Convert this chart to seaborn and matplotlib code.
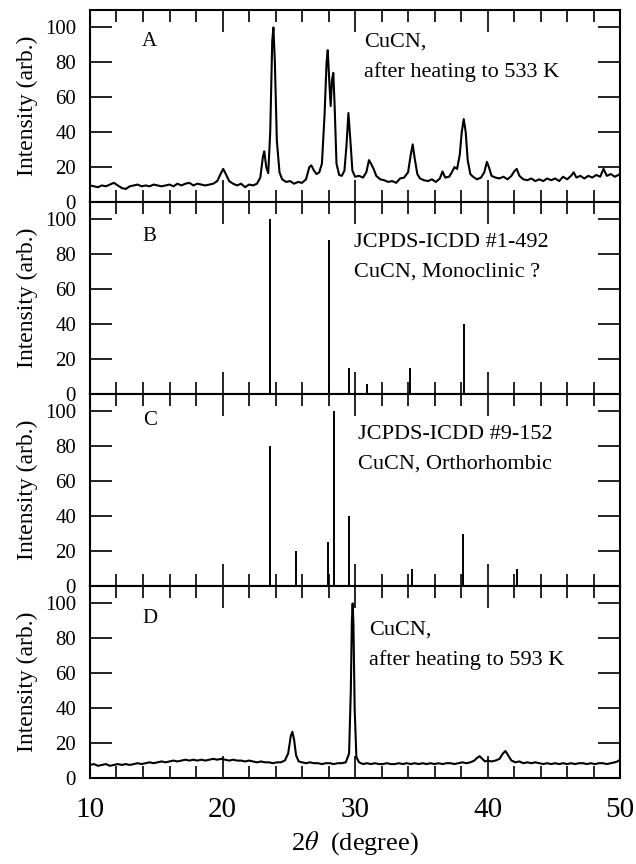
import numpy as np
import matplotlib
matplotlib.use("Agg")
import matplotlib.pyplot as plt
import seaborn as sns
import pandas as pd
from matplotlib.ticker import MultipleLocator

# panel A: CuCN after heating to 533 K
a_theta = [10.0, 10.3, 10.6, 10.9, 11.2, 11.5, 11.8, 12.1, 12.4, 12.7, 13.0, 13.3, 13.6, 13.9,
           14.2, 14.5, 14.8, 15.1, 15.4, 15.7, 16.0, 16.3, 16.6, 16.9, 17.2, 17.5, 17.8, 18.1,
           18.4, 18.7, 19.0, 19.3, 19.6, 19.85, 20.05, 20.25, 20.5, 20.8, 21.1, 21.4, 21.7,
           22.0, 22.3, 22.6, 22.85, 23.05, 23.15, 23.3, 23.45, 23.6, 23.75, 23.84, 23.95,
           24.1, 24.3, 24.5, 24.8, 25.1, 25.4, 25.7, 26.0, 26.3, 26.55, 26.7, 26.9, 27.1,
           27.3, 27.5, 27.7, 27.85, 27.94, 28.05, 28.16, 28.26, 28.36, 28.46, 28.6, 28.8,
           29.0, 29.2, 29.35, 29.5, 29.65, 29.8, 30.0, 30.3, 30.6, 30.85, 31.05, 31.2, 31.4,
           31.6, 31.9, 32.2, 32.5, 32.8, 33.1, 33.4, 33.7, 34.0, 34.2, 34.35, 34.5, 34.7,
           34.9, 35.2, 35.5, 35.8, 36.1, 36.4, 36.6, 36.8, 37.1, 37.3, 37.5, 37.7, 37.9,
           38.05, 38.2, 38.35, 38.5, 38.7, 38.9, 39.2, 39.5, 39.75, 39.95, 40.1, 40.3, 40.6,
           40.9, 41.2, 41.5, 41.8, 42.0, 42.2, 42.4, 42.7, 43.0, 43.3, 43.6, 43.9, 44.2,
           44.5, 44.8, 45.1, 45.4, 45.7, 46.0, 46.3, 46.5, 46.7, 47.0, 47.3, 47.6, 47.9,
           48.2, 48.5, 48.75, 49.0, 49.3, 49.6, 50.0]
a_int = [9.5, 9.0, 8.5, 9.5, 9.0, 10.0, 11.0, 9.5, 8.0, 7.5, 9.0, 9.5, 10.0, 9.0,
         9.5, 9.0, 10.0, 9.5, 9.0, 9.5, 10.0, 9.0, 10.5, 9.5, 10.5, 11.0, 9.5, 10.5,
         10.0, 9.5, 10.0, 10.5, 12.0, 16.0, 19.0, 16.0, 12.0, 10.5, 9.5, 10.5, 8.5,
         10.0, 9.5, 10.5, 14.0, 26.0, 29.0, 20.0, 16.5, 40.0, 92.0, 100.0, 80.0,
         35.0, 17.0, 13.0, 11.5, 12.0, 10.5, 11.5, 11.0, 13.0, 20.0, 21.0, 18.0, 16.0,
         17.0, 22.0, 50.0, 80.0, 87.0, 70.0, 55.0, 70.0, 74.0, 55.0, 22.0, 15.5,
         15.0, 18.0, 32.0, 51.0, 35.0, 18.0, 14.5, 15.0, 14.0, 17.0, 24.0, 22.0, 19.0,
         15.0, 13.0, 12.5, 11.5, 12.0, 11.0, 13.5, 14.0, 17.0, 27.0, 33.0, 25.0, 16.0,
         13.5, 12.5, 12.0, 13.0, 11.5, 13.5, 17.5, 14.0, 14.5, 17.0, 20.0, 19.0, 27.0,
         40.0, 47.5, 40.0, 24.0, 16.0, 14.5, 13.0, 14.0, 17.0, 23.0, 20.0, 15.0, 14.0,
         13.5, 14.5, 13.0, 15.0, 17.5, 19.0, 15.0, 13.0, 12.5, 13.5, 12.0, 13.0, 12.0,
         13.5, 12.5, 13.5, 12.0, 14.5, 13.0, 15.0, 17.0, 14.0, 15.0, 13.5, 15.0, 14.0,
         15.5, 14.5, 19.0, 15.0, 16.0, 14.5, 16.0]

# panel B: JCPDS-ICDD #1-492
b_pos = [23.55, 28.05, 29.57, 30.93, 34.17, 38.25]
b_int = [100, 88, 15, 5.5, 15, 40]

# panel C: JCPDS-ICDD #9-152
c_pos = [23.56, 25.52, 27.93, 28.44, 29.57, 34.33, 38.12, 42.2]
c_int = [80, 20, 25, 100, 40, 10, 30, 10]

# panel D: CuCN after heating to 593 K
d_theta = [10.0, 10.3, 10.6, 10.9, 11.2, 11.5, 11.8, 12.1, 12.4, 12.7, 13.0, 13.3, 13.6, 13.9,
           14.2, 14.5, 14.8, 15.1, 15.4, 15.7, 16.0, 16.3, 16.6, 16.9, 17.2, 17.5, 17.8, 18.1,
           18.4, 18.7, 19.0, 19.3, 19.6, 19.9, 20.2, 20.5, 20.8, 21.1, 21.4, 21.7, 22.0,
           22.3, 22.6, 22.9, 23.2, 23.5, 23.8, 24.1, 24.4, 24.7, 24.95, 25.15, 25.27, 25.4,
           25.55, 25.75, 26.0, 26.3, 26.6, 26.9, 27.2, 27.5, 27.8, 28.1, 28.4, 28.7, 29.0,
           29.3, 29.55, 29.68, 29.76, 29.82, 29.88, 29.97, 30.1, 30.3, 30.6, 30.9, 31.2, 31.5,
           31.8, 32.1, 32.4, 32.7, 33.0, 33.3, 33.6, 33.9, 34.2, 34.5, 34.8, 35.1, 35.4,
           35.7, 36.0, 36.3, 36.6, 36.9, 37.2, 37.5, 37.8, 38.1, 38.4, 38.7, 39.0, 39.2,
           39.4, 39.6, 39.8, 40.0, 40.3, 40.6, 40.9, 41.15, 41.35, 41.55, 41.8, 42.1, 42.4,
           42.7, 43.0, 43.3, 43.6, 43.9, 44.2, 44.5, 44.8, 45.1, 45.4, 45.7, 46.0, 46.3,
           46.6, 46.9, 47.2, 47.5, 47.8, 48.1, 48.4, 48.7, 49.0, 49.3, 49.6, 49.8, 50.0]
d_int = [7.5, 8.0, 7.0, 7.5, 8.0, 7.0, 7.5, 8.0, 7.5, 8.0, 7.5, 8.0, 8.5, 8.0,
         8.5, 9.0, 8.5, 9.0, 9.5, 9.0, 9.5, 10.0, 9.5, 10.0, 10.5, 10.0, 10.5, 10.0,
         10.5, 10.0, 10.5, 11.0, 10.5, 11.0, 10.5, 10.0, 10.5, 10.0, 10.0, 9.5, 10.0,
         9.5, 9.0, 9.5, 9.0, 9.0, 8.5, 9.0, 9.0, 10.0, 14.0, 24.0, 26.5, 22.0,
         13.0, 9.5, 9.0, 8.5, 9.0, 8.5, 8.5, 8.0, 8.5, 8.5, 8.0, 8.5, 8.5,
         9.0, 14.0, 50.0, 90.0, 100.0, 88.0, 40.0, 12.0, 9.0, 8.0, 8.5, 8.0, 8.5,
         8.0, 8.0, 8.5, 8.0, 8.0, 8.5, 8.0, 8.5, 8.0, 8.5, 8.0, 8.5, 8.0,
         8.5, 8.0, 8.5, 8.0, 8.5, 8.5, 8.0, 8.5, 9.0, 8.5, 9.0, 10.0, 11.5,
         12.5, 11.0, 9.5, 10.0, 9.5, 10.0, 11.0, 14.0, 15.5, 13.0, 10.0, 9.0, 9.5,
         8.5, 9.0, 8.5, 9.0, 8.5, 8.0, 8.5, 8.0, 8.5, 8.0, 8.5, 8.0, 8.5,
         8.0, 8.5, 8.5, 8.0, 8.5, 8.0, 8.5, 8.5, 8.0, 8.5, 9.0, 9.5, 10.5]

panel_tags = ["A", "B", "C", "D"]
panel_notes = [["CuCN,", "after heating to 533 K"],
               ["JCPDS-ICDD #1-492", "CuCN, Monoclinic ?"],
               ["JCPDS-ICDD #9-152", "CuCN, Orthorhombic"],
               ["CuCN,", "after heating to 593 K"]]
note_x = [30.7, 29.9, 30.25, 31.05]
note_y = [[91.5, 74.5], [87, 70], [86.7, 70], [84.7, 67.6]]
tag_y = [92, 90, 95, 91.4]

sns.set_style("ticks")
plt.rcParams["font.family"] = ["Liberation Serif", "DejaVu Serif"]
plt.rcParams["mathtext.fontset"] = "stix"
for key in ["text.color", "axes.labelcolor", "xtick.color", "ytick.color", "axes.edgecolor"]:
    plt.rcParams[key] = "black"

fig, axes = plt.subplots(4, 1, figsize=(6.36, 8.64), dpi=100, sharex=True)
fig.subplots_adjust(left=0.1415, right=0.975, top=0.9884, bottom=0.0995, hspace=0)

df_a = pd.DataFrame({"theta": a_theta, "I": a_int})
df_d = pd.DataFrame({"theta": d_theta, "I": d_int})
sns.lineplot(data=df_a, x="theta", y="I", ax=axes[0], color="black", lw=1.5, estimator=None)
axes[1].vlines(b_pos, 0, b_int, color="black", lw=1.4)
axes[2].vlines(c_pos, 0, c_int, color="black", lw=1.4)
sns.lineplot(data=df_d, x="theta", y="I", ax=axes[3], color="black", lw=1.5, estimator=None)

for i, ax in enumerate(axes):
    ax.set_xlim(10, 50)
    ax.set_ylim(0, 110)
    ax.xaxis.set_major_locator(MultipleLocator(10))
    ax.xaxis.set_minor_locator(MultipleLocator(2))
    ax.yaxis.set_major_locator(MultipleLocator(20))
    ax.tick_params(axis="both", which="major", direction="in", top=True, right=True,
                   length=16, width=1.2, labelsize=15, pad=10)
    ax.tick_params(axis="x", which="minor", direction="in", top=True, bottom=True,
                   length=8.5, width=1.2)
    ax.tick_params(axis="x", which="major", labelsize=21, pad=14)
    for s in ax.spines.values():
        s.set_linewidth(1.5)
    ax.set_ylabel("Intensity (arb.)", fontsize=17, labelpad=5)
    ax.set_xlabel("")
    ax.text(14.5, tag_y[i], panel_tags[i], fontsize=15, ha="center", va="center")
    for line, yy in zip(panel_notes[i], note_y[i]):
        ax.text(note_x[i], yy, line, fontsize=16, ha="left", va="center")

axes[3].set_xlabel(r"2$\theta$  (degree)", fontsize=19, labelpad=4)
fig.align_ylabels(axes)

plt.savefig("out.png", dpi=100)
plt.close()
